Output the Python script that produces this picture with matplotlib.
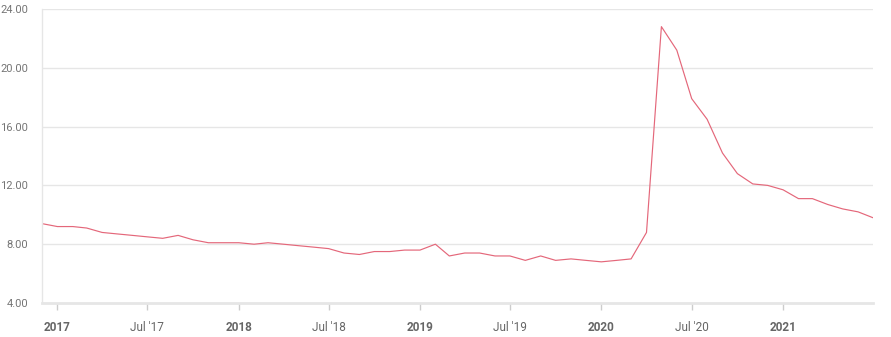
import numpy as np
import pandas as pd
import matplotlib
matplotlib.use("Agg")
import matplotlib.pyplot as plt
import matplotlib.dates as mdates

# monthly values, Dec 2016 - Jul 2021
months = pd.date_range("2016-12-01", "2021-07-01", freq="MS")
values = [9.4, 9.2, 9.2, 9.1, 8.8, 8.7, 8.6, 8.5, 8.4, 8.6, 8.3, 8.1,
          8.1, 8.1, 8.0, 8.1, 8.0, 7.9, 7.8, 7.7, 7.4, 7.3, 7.5, 7.5,
          7.6, 7.6, 8.0, 7.2, 7.4, 7.4, 7.2, 7.2, 6.9, 7.2, 6.9, 7.0,
          6.9, 6.8, 6.9, 7.0, 8.8, 22.8, 21.2, 17.9, 16.5, 14.2, 12.8, 12.1,
          12.0, 11.7, 11.1, 11.1, 10.7, 10.4, 10.2, 9.8]

tick_dates = pd.to_datetime(["2017-01-01", "2017-07-01", "2018-01-01", "2018-07-01",
                             "2019-01-01", "2019-07-01", "2020-01-01", "2020-07-01",
                             "2021-01-01"])
tick_labels = ["2017", "Jul '17", "2018", "Jul '18", "2019", "Jul '19", "2020", "Jul '20", "2021"]
y_ticks = [4, 8, 12, 16, 20, 24]

plt.rcParams['font.family'] = ['Roboto', 'DejaVu Sans']

fig = plt.figure(figsize=(8.91, 3.37), dpi=100)
ax = fig.add_axes([42/891, 1-303/337, 831/891, 294/337])

ax.plot(months, values, color="#e4677a", linewidth=0.85)

ax.set_xlim(months[0], months[-1])
ax.set_ylim(4, 24)
ax.set_yticks(y_ticks)
ax.set_yticklabels(["%.2f" % v for v in y_ticks])
ax.set_xticks(tick_dates)
ax.set_xticklabels(tick_labels)
for lbl in ax.get_xticklabels():
    if not lbl.get_text().startswith("Jul"):
        lbl.set_fontweight("bold")

ax.grid(axis="y", color="#e6e6e6", linewidth=1)
ax.set_axisbelow(True)
for s in ["top", "right"]:
    ax.spines[s].set_visible(False)
ax.spines["left"].set_color("#e6e6e6")
ax.spines["left"].set_linewidth(1)
ax.spines["bottom"].set_color("#e6e6e6")
ax.spines["bottom"].set_linewidth(2)

ax.tick_params(axis="y", length=0, pad=10, labelsize=8, labelcolor="#757575")
ax.tick_params(axis="x", length=5, width=1, color="#cccccc", pad=8,
               labelsize=8.5, labelcolor="#666666")

fig.savefig("out.png", dpi=100)
